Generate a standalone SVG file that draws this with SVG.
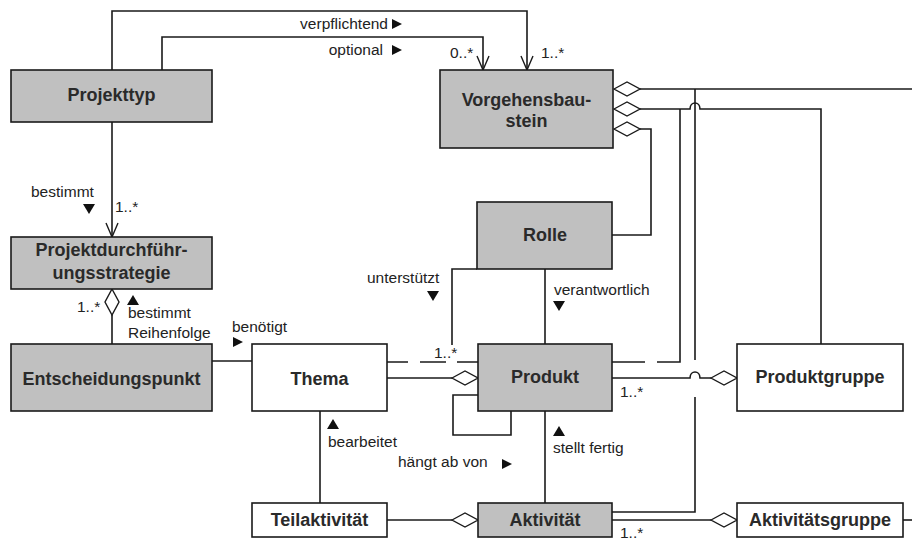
<svg xmlns="http://www.w3.org/2000/svg" xmlns:xlink="http://www.w3.org/1999/xlink" width="912" height="540" viewBox="0 0 912 540">
<style>
.box{stroke:#1a1a1a;stroke-width:1.6}
.g{fill:#c0c0c0}
.w{fill:#ffffff}
.t{font-family:"Liberation Sans",Arial,sans-serif;font-weight:bold;font-size:18px;fill:#2a2a2a;text-anchor:middle}
.l{font-family:"Liberation Sans",Arial,sans-serif;font-size:15.5px;fill:#222}
.c{fill:none;stroke:#1a1a1a;stroke-width:1.6}
.dia{fill:#fff;stroke:#1a1a1a;stroke-width:1.4}
.arr{fill:none;stroke:#1a1a1a;stroke-width:1.4}
.tri{fill:#111}
</style>
<defs>
<path id="dH" d="M0,0 L13,-7 L26,0 L13,7 Z"/>
<path id="dV" d="M0,0 L7,13 L0,26 L-7,13 Z"/>
<path id="aD" d="M-6,-14 L0,0 L6,-14"/>
<path id="tR" d="M0,-5 L10,0 L0,5 Z"/>
<path id="tD" d="M-6,0 L6,0 L0,10 Z"/>
<path id="tU" d="M-6,10 L6,10 L0,0 Z"/>
</defs>

<g id="connectors">
<path class="c" d="M112,70 V11 H527 V70"/>
<path class="c" d="M162,70 V37 H483 V70"/>
<path class="c" d="M112,122 V237"/>
<path class="c" d="M112,315 V344"/>
<path class="c" d="M212,361 H252"/>
<path class="c" d="M387,362 H408 M420,362 H446 M457,362 H478"/>
<path class="c" d="M477,269 H452 V345"/>
<path class="c" d="M545,269 V344"/>
<path class="c" d="M387,378 H452"/>
<path class="c" d="M478,395 H453 V435 H511 V411"/>
<path class="c" d="M320,411 V503"/>
<path class="c" d="M545,411 V503"/>
<path class="c" d="M387,520 H452"/>
<path class="c" d="M612,378 H690 C690,370 700,370 700,378 H711"/>
<path class="c" d="M612,362 H645 M657,362 H680 V109"/>
<path class="c" d="M640,109 H690 C690,101 700,101 700,109 H821 V344"/>
<path class="c" d="M640,89 H912"/>
<path class="c" d="M695,89 V360 M695,397 V512 H612"/>
<path class="c" d="M612,520 H711"/>
<path class="c" d="M903,520 H912"/>
<path class="c" d="M640,129 H651 V235 H612"/>

<use href="#aD" class="arr" x="483" y="70"/>
<use href="#aD" class="arr" x="527" y="70"/>
<use href="#aD" class="arr" x="112" y="237"/>
<use href="#dH" class="dia" x="614" y="89"/>
<use href="#dH" class="dia" x="614" y="109"/>
<use href="#dH" class="dia" x="614" y="129"/>
<use href="#dH" class="dia" x="452" y="378"/>
<use href="#dH" class="dia" x="711" y="378"/>
<use href="#dH" class="dia" x="452" y="520"/>
<use href="#dH" class="dia" x="711" y="520"/>
<use href="#dV" class="dia" x="112" y="289"/>

<use href="#tR" class="tri" x="392" y="24"/>
<use href="#tR" class="tri" x="392" y="50"/>
<use href="#tD" class="tri" x="89" y="204"/>
<use href="#tU" class="tri" x="133" y="295"/>
<use href="#tR" class="tri" x="233" y="342"/>
<use href="#tD" class="tri" x="433" y="291"/>
<use href="#tD" class="tri" x="559" y="301"/>
<use href="#tU" class="tri" x="333" y="419"/>
<use href="#tU" class="tri" x="559" y="426"/>
<use href="#tR" class="tri" x="502" y="464"/>

<text class="l" x="388" y="29" text-anchor="end">verpflichtend</text>
<text class="l" x="383" y="55" text-anchor="end">optional</text>
<text class="l" x="450" y="58">0..*</text>
<text class="l" x="541" y="58">1..*</text>
<text class="l" x="31" y="197">bestimmt</text>
<text class="l" x="115" y="212">1..*</text>
<text class="l" x="77" y="312">1..*</text>
<text class="l" x="128" y="318">bestimmt</text>
<text class="l" x="128" y="338">Reihenfolge</text>
<text class="l" x="232" y="332">benötigt</text>
<text class="l" x="367" y="283">unterstützt</text>
<text class="l" x="554" y="295">verantwortlich</text>
<text class="l" x="434" y="358">1..*</text>
<text class="l" x="620" y="397">1..*</text>
<text class="l" x="328" y="447">bearbeitet</text>
<text class="l" x="398" y="467">hängt ab von</text>
<text class="l" x="553" y="453">stellt fertig</text>
<text class="l" x="620" y="538">1..*</text>
</g>

<g id="projekttyp"><rect class="box g" x="11" y="70" width="201" height="52"/><text class="t" x="111.5" y="101">Projekttyp</text></g>
<g id="vorgehensbaustein"><rect class="box g" x="440" y="70" width="173" height="78"/><text class="t" x="526.5" y="106">Vorgehensbau-</text><text class="t" x="526.5" y="127">stein</text></g>
<g id="projektdurchfuehrungsstrategie"><rect class="box g" x="11" y="237" width="201" height="52"/><text class="t" x="111.5" y="256">Projektdurchführ-</text><text class="t" x="111.5" y="279">ungsstrategie</text></g>
<g id="rolle"><rect class="box g" x="477" y="202" width="135" height="67"/><text class="t" x="545" y="241">Rolle</text></g>
<g id="entscheidungspunkt"><rect class="box g" x="11" y="344" width="201" height="67"/><text class="t" x="111.5" y="385">Entscheidungspunkt</text></g>
<g id="thema"><rect class="box w" x="252" y="344" width="135" height="67"/><text class="t" x="319.5" y="385">Thema</text></g>
<g id="produkt"><rect class="box g" x="478" y="344" width="134" height="67"/><text class="t" x="545" y="383">Produkt</text></g>
<g id="produktgruppe"><rect class="box w" x="737" y="344" width="166" height="67"/><text class="t" x="820" y="383">Produktgruppe</text></g>
<g id="teilaktivitaet"><rect class="box w" x="252" y="503" width="135" height="34"/><text class="t" x="319.5" y="526">Teilaktivität</text></g>
<g id="aktivitaet"><rect class="box g" x="478" y="503" width="134" height="34"/><text class="t" x="545" y="526">Aktivität</text></g>
<g id="aktivitaetsgruppe"><rect class="box w" x="737" y="503" width="166" height="34"/><text class="t" x="820" y="526">Aktivitätsgruppe</text></g>
</svg>
